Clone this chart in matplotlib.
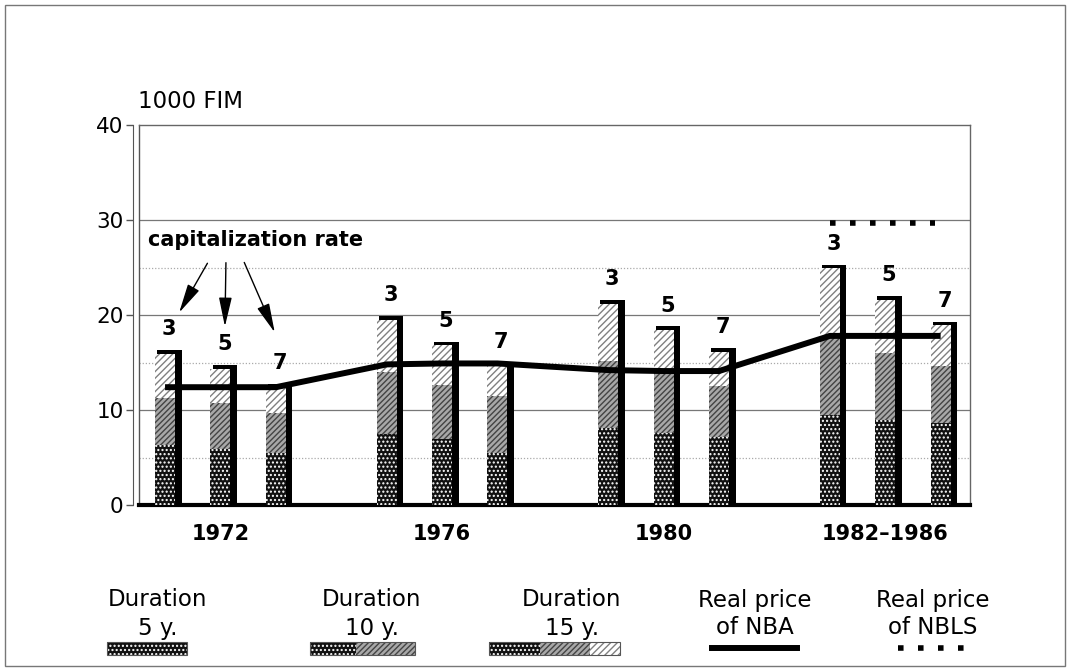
'''
Price of a forest land lease by duration and capitalization rate, 1972-1986.
'''

import numpy as np
import matplotlib.pyplot as plt
from matplotlib.patches import Rectangle

W, H = 1069, 671

groups = ['1972', '1976', '1980', '1982–1986']
rates = ['3', '5', '7']

# price (1000 FIM) for each bar, order: 1972 r3, r5, r7, 1976 r3, ...
dur5 = [6.3, 5.9, 5.5, 7.5, 7.0, 5.5, 8.1, 7.6, 7.2, 9.5, 9.0, 8.6]
dur10 = [11.3, 10.7, 9.7, 14.0, 12.6, 11.5, 15.2, 13.9, 12.5, 17.6, 16.0, 14.6]
dur15 = [15.9, 14.3, 12.3, 19.5, 16.8, 14.6, 21.2, 18.4, 16.1, 24.9, 21.6, 18.9]

# real price of NBA at each bar, NBLS only for 1982-1986
nba = [12.4, 12.4, 12.4, 14.8, 14.9, 14.9, 14.2, 14.1, 14.1, 17.8, 17.8, 17.8]
nbls = [29.7, 29.7]

leg_top = ['Duration', 'Duration', 'Duration', 'Real price', 'Real price']
leg_bottom = ['5 y.', '10 y.', '15 y.', 'of NBA', 'of NBLS']

plt.rcParams['hatch.linewidth'] = 1.0

pos = np.array([g * 4 + r for g in range(len(groups)) for r in range(len(rates))])
w = 0.36

fig = plt.figure(figsize=(W / 100, H / 100), dpi=100)
ax = fig.add_axes([139 / W, 1 - 505 / H, 831 / W, 380 / H])

# grid
for y in [10, 20, 30]:
    ax.axhline(y, color='#777777', lw=0.9, zorder=1)
for y in [5, 15, 25]:
    ax.axhline(y, color='#aaaaaa', lw=0.9, ls=(0, (1, 1.5)), zorder=1)

# black shadow behind each bar
ax.bar(pos + 0.08, np.array(dur15) + 0.4, w + 0.08, color='black', zorder=2)
ax.bar(pos, dur15, w, color='white', hatch='/////', edgecolor='#808080', lw=0, zorder=3)
ax.bar(pos, dur10, w, color='#a8a8a8', hatch='//////', edgecolor='#444444', lw=0, zorder=4)
ax.bar(pos, dur5, w, color='#111111', hatch='....', edgecolor='white', lw=0, zorder=5)

ax.plot(pos, nba, color='black', lw=4.3, solid_capstyle='butt', zorder=6)
ax.plot([12, 13.9], nbls, color='black', lw=4, ls=(0, (1, 2.6)),
        dash_capstyle='butt', zorder=6)

for i, p in enumerate(pos):
    ax.text(p + 0.07, dur15[i] + 2.6, rates[i % 3], ha='center', va='center',
            fontsize=15, fontweight='bold')

ax.text(-0.31, 27.9, 'capitalization rate', ha='left', va='center',
        fontsize=15, fontweight='bold')
arrow = dict(arrowstyle='-|>,head_length=0.9,head_width=0.2', color='black', lw=1,
             mutation_scale=20)
ax.annotate('', xy=(0.23, 20.0), xytext=(0.79, 25.7), arrowprops=arrow)
ax.annotate('', xy=(1.08, 18.5), xytext=(1.10, 25.8), arrowprops=arrow)
ax.annotate('', xy=(2.0, 17.9), xytext=(1.41, 25.8), arrowprops=arrow)

ax.set_xlim(-0.47, 14.53)
ax.set_ylim(0, 40)
ax.set_xticks([1, 5, 9, 13])
ax.set_xticklabels(groups, fontsize=15, fontweight='bold')
ax.set_yticks([0, 10, 20, 30, 40])
ax.tick_params(axis='x', length=0, pad=14)
ax.tick_params(axis='y', length=5, width=1, color='#555555', pad=2, labelsize=15.5)

ax.spines['left'].set_position(('outward', 4))
ax.spines['left'].set_color('#555555')
ax.spines['bottom'].set_linewidth(3)
for s in ['top', 'right']:
    ax.spines[s].set_color('#666666')
    ax.spines[s].set_linewidth(1)
ax.plot([0, 0], [0, 1], transform=ax.transAxes, color='#555555', lw=1, clip_on=False)

fig.text(138 / W, 1 - 102 / H, '1000 FIM', ha='left', va='center', fontsize=16.5)


# legend at the bottom, drawn by hand
def fig_rect(x0, x1, y0, y1, **kw):
    fig.add_artist(Rectangle((x0 / W, 1 - y1 / H), (x1 - x0) / W, (y1 - y0) / H,
                             transform=fig.transFigure, **kw))


cross = dict(facecolor='#111111', hatch='....', edgecolor='white', lw=0)
grey = dict(facecolor='#a8a8a8', hatch='//////', edgecolor='#444444', lw=0)
light = dict(facecolor='white', hatch='/////', edgecolor='#808080', lw=0)

fig_rect(107, 187, 642, 655, **cross)
fig_rect(310, 356, 642, 655, **cross)
fig_rect(356, 415, 642, 655, **grey)
fig_rect(489, 540, 642, 655, **cross)
fig_rect(540, 590, 642, 655, **grey)
fig_rect(590, 620, 642, 655, **light)
for x0, x1 in [(107, 187), (310, 415), (489, 620)]:
    fig_rect(x0, x1, 642, 655, fill=False, edgecolor='#555555', lw=0.8)
fig.add_artist(plt.Line2D([712 / W, 797 / W], [1 - 648 / H] * 2, color='black', lw=4.3,
                          transform=fig.transFigure))
fig.add_artist(plt.Line2D([898 / W, 975 / W], [1 - 648 / H] * 2, color='black', lw=4,
                          ls=(0, (1, 2.6)), dash_capstyle='butt', transform=fig.transFigure))

centers = [158, 372, 572, 755, 933]
for cx, t1, t2 in zip(centers, leg_top, leg_bottom):
    fig.text(cx / W, 1 - 600 / H, t1, ha='center', va='center', fontsize=16.5)
    fig.text(cx / W, 1 - 628 / H, t2, ha='center', va='center', fontsize=16.5)

fig.add_artist(Rectangle((5 / W, 1 - 666 / H), 1060 / W, 661 / H, fill=False,
                         edgecolor='#777777', lw=1, transform=fig.transFigure))

plt.savefig('out.png', dpi=100)
